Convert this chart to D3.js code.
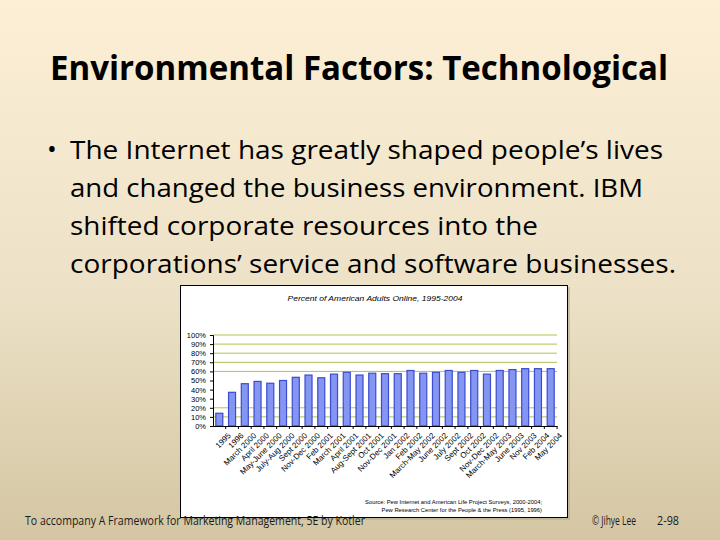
<!DOCTYPE html>
<html><head><meta charset="utf-8">
<script src="https://cdn.jsdelivr.net/npm/d3@7"></script>
<style>body{margin:0;}svg{display:block;}</style>
</head><body>
<svg id="c" width="720" height="540"></svg>
<script>
const periods = ["1995","1996","March 2000","April 2000","May-June 2000","July-Aug 2000","Sept 2000","Nov-Dec 2000","Feb 2001","March 2001","April 2001","Aug-Sept 2001","Oct 2001","Nov-Dec 2001","Jan 2002","Feb 2002","March-May 2002","June 2002","July 2002","Sept 2002","Oct 2002","Nov-Dec 2002","March-May 2003","June 2003","Nov 2003","Feb 2004","May 2004"];
const percentOnline = [14,37,46.5,49,47,50,53.5,56,53,57,59,56,58,57.5,57.5,61,58,59,61,59,61,57,61,62,63,63,63];
const yTicks = [0,10,20,30,40,50,60,70,80,90,100];
const gridValues = [10,20,60,70,80,90,100];
const titleText = "Environmental Factors: Technological";
const bulletLines = ["The Internet has greatly shaped people\u2019s lives","and changed the business environment. IBM","shifted corporate resources into the","corporations\u2019 service and software businesses."];
const chartTitle = "Percent of American Adults Online, 1995-2004";
const sourceLines = ["Source: Pew Internet and American Life Project Surveys, 2000-2004;","Pew Research Center for the People & the Press (1995, 1996)"];

const svg = d3.select("#c");
const defs = svg.append("defs");
const g = defs.append("linearGradient").attr("id","bg").attr("x1",0).attr("y1",0).attr("x2",0).attr("y2",1);
g.append("stop").attr("offset","0%").attr("stop-color","#fcefd6");
g.append("stop").attr("offset","55%").attr("stop-color","#ece1c6");
g.append("stop").attr("offset","100%").attr("stop-color","#d4c6a3");
svg.append("rect").attr("width",720).attr("height",540).attr("fill","url(#bg)");

svg.append("text").attr("x",359).attr("y",80).attr("text-anchor","middle")
  .attr("font-family","Open Sans").attr("font-weight","bold").attr("font-size",34)
  .attr("textLength",618).attr("lengthAdjust","spacingAndGlyphs").attr("fill","#000").text(titleText);

svg.append("text").attr("x",47).attr("y",158).attr("font-family","Open Sans").attr("font-size",26).text("\u2022");
const lineEnds = [663,643,538,676];
bulletLines.forEach((t,i)=>{
  svg.append("text").attr("x",70).attr("y",159+i*38).attr("font-family","Open Sans").attr("font-size",25)
    .attr("textLength",lineEnds[i]-70).attr("lengthAdjust","spacingAndGlyphs").attr("fill","#000").text(t);
});

// chart frame
svg.append("rect").attr("x",182).attr("y",287).attr("width",388).attr("height",233).attr("fill","#b8ac90").attr("opacity",0.6);
svg.append("rect").attr("x",180.5).attr("y",285.5).attr("width",387).attr("height",232).attr("fill","#fff").attr("stroke","#000").attr("stroke-width",1);

svg.append("text").attr("x",375).attr("y",301).attr("text-anchor","middle").attr("font-family","Liberation Sans")
  .attr("font-style","italic").attr("font-size",8).attr("textLength",175).attr("lengthAdjust","spacingAndGlyphs").text(chartTitle);

const x = d3.scaleBand().domain(periods).range([213,557]).paddingInner(0.45).paddingOuter(0.22);
const y = d3.scaleLinear().domain([0,100]).range([426,335]);

svg.append("g").selectAll("line").data(gridValues).join("line")
  .attr("x1",213).attr("x2",557).attr("y1",d=>y(d)).attr("y2",d=>y(d))
  .attr("stroke","#b5c04e").attr("stroke-width",1);

const yAxis = svg.append("g").attr("transform","translate(213,0)")
  .call(d3.axisLeft(y).tickValues(yTicks).tickFormat(d=>d+"%").tickSize(3));
yAxis.select(".domain").attr("stroke","#000");
yAxis.selectAll("text").attr("font-family","Liberation Sans").attr("font-size",7.5).attr("dx",-1);

svg.append("g").selectAll("rect").data(periods).join("rect")
  .attr("x",d=>x(d)).attr("width",x.bandwidth())
  .attr("y",(d,i)=>y(percentOnline[i])).attr("height",(d,i)=>y(0)-y(percentOnline[i]))
  .attr("fill","#8595f2").attr("stroke","#3b4ccc").attr("stroke-width",1.2);

const xAxis = svg.append("g").attr("transform","translate(0,426)")
  .call(d3.axisBottom(x).tickSize(3).tickSizeOuter(0));
xAxis.select(".domain").attr("stroke","#000");
xAxis.selectAll(".tick line").attr("transform",`translate(${x.step()/2},0)`);
xAxis.selectAll("text").attr("font-family","Liberation Sans").attr("font-size",8)
  .attr("text-anchor","end").attr("transform","translate(5,3) rotate(-45)").attr("dy","0.5em");

sourceLines.forEach((t,i)=>{
  svg.append("text").attr("x",542).attr("y",504+i*8).attr("text-anchor","end").attr("font-family","Liberation Sans")
    .attr("font-size",5.8).text(t);
});

svg.append("text").attr("x",25).attr("y",525).attr("font-family","Open Sans").attr("font-size",12)
  .attr("textLength",340).attr("lengthAdjust","spacingAndGlyphs").attr("fill","#1a1a1a").text("To accompany A Framework for Marketing Management, 5E by Kotler");
svg.append("text").attr("x",592).attr("y",525).attr("font-family","Open Sans").attr("font-size",12)
  .attr("textLength",44).attr("lengthAdjust","spacingAndGlyphs").attr("fill","#1a1a1a").text("\u00a9 Jihye Lee");
svg.append("text").attr("x",657).attr("y",525).attr("font-family","Open Sans").attr("font-size",12)
  .attr("textLength",22).attr("lengthAdjust","spacingAndGlyphs").attr("fill","#1a1a1a").text("2-98");
</script>
</body></html>
